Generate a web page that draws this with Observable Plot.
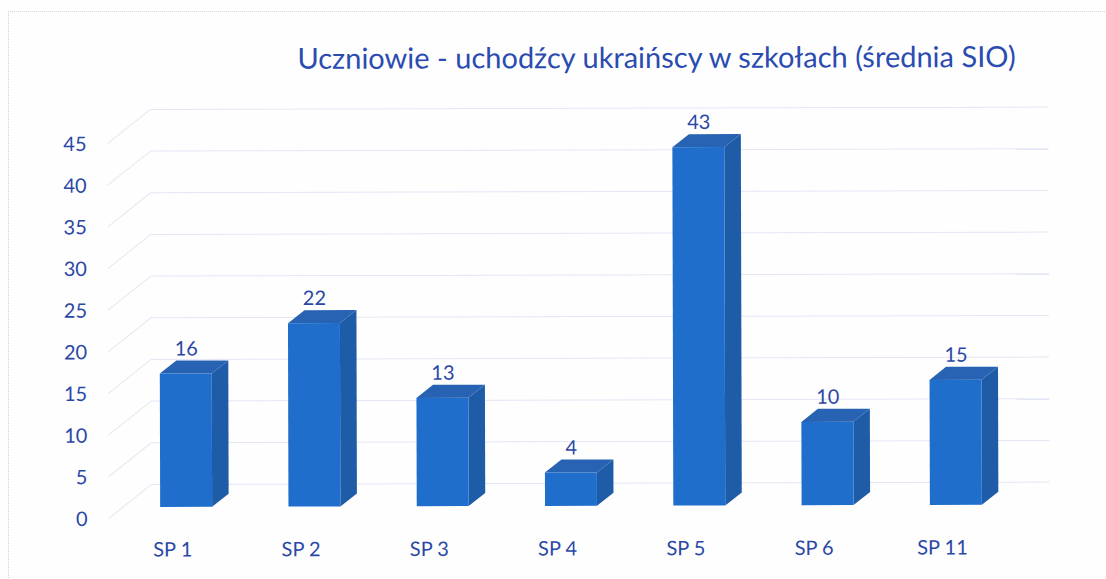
<!DOCTYPE html>
<html lang="pl">
<head>
<meta charset="utf-8">
<title>Uczniowie - uchodźcy ukraińscy w szkołach</title>
<script src="https://cdn.jsdelivr.net/npm/d3@7"></script>
<script src="https://cdn.jsdelivr.net/npm/@observablehq/plot@0.6"></script>
<style>
  html, body { margin: 0; padding: 0; background: #fefefe; }
  #page { position: relative; width: 1106px; height: 579px; overflow: hidden; }
  #scanedge { position: absolute; left: 8px; top: 11px; width: 1098px; height: 568px;
              border-left: 1px dotted #d2d2d2; border-top: 1px dotted #d8d8d8; }
  #chart { position: absolute; left: 0; top: 0; }
  #chart svg { transform-origin: 122px 507px; transform: rotate(-0.15deg); background: transparent; }
</style>
</head>
<body>
<div id="page"><div id="scanedge"></div><div id="chart"></div></div>
<script>
const chartTitle = "Uczniowie - uchodźcy ukraińscy w szkołach (średnia SIO)";
const schools = ["SP 1", "SP 2", "SP 3", "SP 4", "SP 5", "SP 6", "SP 11"];
const pupils = [16, 22, 13, 4, 43, 10, 15];
const yTicks = [0, 5, 10, 15, 20, 25, 30, 35, 40, 45];

// 3-D depth, expressed in scale units
const barWidth = 0.405;
const depthX = 0.129, depthY = 1.56;
const wallX = 0.226, wallY = 2.76;
const floorX = -0.109, floorY = -1.32;

const BLUE_TEXT = "#2b48a6";
const FONT = "Lato, Carlito, sans-serif";

const bars = schools.map((name, i) => ({
  name, value: pupils[i], x1: i + 0.5 - barWidth / 2, x2: i + 0.5 + barWidth / 2, cx: i + 0.5
}));

const sidePts = bars.flatMap(b => [
  {name: b.name, x: b.x2, y1: 0, y2: b.value},
  {name: b.name, x: b.x2 + depthX, y1: depthY, y2: b.value + depthY}
]);
const topPts = bars.flatMap(b => [
  {name: b.name, y: b.value, x1: b.x1, x2: b.x2},
  {name: b.name, y: b.value + depthY, x1: b.x1 + depthX, x2: b.x2 + depthX}
]);

const plot = Plot.plot({
  width: 1106,
  height: 579,
  marginLeft: 122,
  marginRight: 86,
  marginTop: 132,
  marginBottom: 72,
  style: {background: "transparent", fontFamily: FONT},
  x: {domain: [0, 7]},
  y: {domain: [0, 45]},
  marks: [
    // back wall and side wall gridlines
    Plot.link(yTicks, {
      x1: wallX, x2: 7 + wallX,
      y1: d => d + wallY, y2: d => d + wallY,
      stroke: "#e3e6f5", strokeWidth: 1
    }),
    Plot.link(yTicks, {
      x1: floorX, x2: wallX,
      y1: d => d + floorY, y2: d => d + wallY,
      stroke: "#e6e8f2", strokeWidth: 1
    }),
    // axes
    Plot.axisY({
      ticks: yTicks, tickSize: 0, tickPadding: 35, dy: 12, label: null,
      fill: BLUE_TEXT, fontSize: 20, fontFamily: FONT
    }),
    Plot.axisX({
      ticks: bars.map(b => b.cx), tickSize: 0, tickPadding: 35, dx: -14, label: null,
      tickFormat: (d) => schools[Math.round(d - 0.5)],
      fill: BLUE_TEXT, fontSize: 20, fontFamily: FONT
    }),
    // bar faces
    Plot.areaY(sidePts, {x: "x", y1: "y1", y2: "y2", z: "name", fill: "#1e5ca8", curve: "linear"}),
    Plot.areaX(topPts, {y: "y", x1: "x1", x2: "x2", z: "name", fill: "#2862b2", curve: "linear"}),
    Plot.rect(bars, {x1: "x1", x2: "x2", y1: 0, y2: "value", fill: "#1f6ecb"}),
    // value labels
    Plot.text(bars, {
      x: "cx", y: "value", text: d => String(d.value), dy: -25,
      fill: BLUE_TEXT, fontSize: 20, fontFamily: FONT
    }),
    // title
    Plot.text([chartTitle], {
      x: 4.172, y: 53.7, text: d => d, textAnchor: "middle",
      fill: "#2a4bb0", fontSize: 29, fontFamily: FONT
    })
  ]
});
document.getElementById("chart").appendChild(plot);
</script>
</body>
</html>
